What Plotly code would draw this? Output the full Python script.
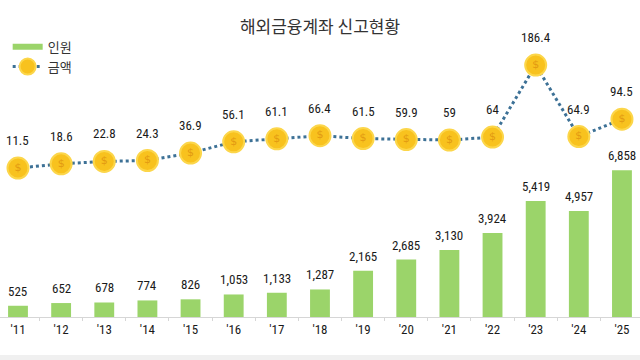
import plotly.graph_objects as go

years = ["'11", "'12", "'13", "'14", "'15", "'16", "'17", "'18", "'19", "'20", "'21", "'22", "'23", "'24", "'25"]
persons = [525, 652, 678, 774, 826, 1053, 1133, 1287, 2165, 2685, 3130, 3924, 5419, 4957, 6858]
amounts = [11.5, 18.6, 22.8, 24.3, 36.9, 56.1, 61.1, 66.4, 61.5, 59.9, 59, 64, 186.4, 64.9, 94.5]
amount_labels = ["11.5", "18.6", "22.8", "24.3", "36.9", "56.1", "61.1", "66.4", "61.5", "59.9", "59", "64", "186.4", "64.9", "94.5"]

NUM_FONT = "Liberation Sans Narrow, Roboto Condensed, Noto Sans CJK KR, sans-serif"
KR_FONT = "Noto Sans CJK KR, sans-serif"
GREEN = "#9BD46A"
BLUE = "#3D7196"

fig = go.Figure()
fig.add_trace(go.Bar(
    x=years, y=persons, name="인원", marker=dict(color=GREEN, line=dict(width=0)),
    width=0.46, yaxis="y", hoverinfo="skip", showlegend=False,
))
# legend entry for the bars (wide thin green swatch like the reference)
fig.add_trace(go.Scatter(
    x=[None], y=[None], name="인원", mode="lines", line=dict(color=GREEN, width=6),
    showlegend=True,
))
fig.add_trace(go.Scatter(
    x=years, y=amounts, name="금액", yaxis="y2", mode="lines+markers",
    line=dict(color=BLUE, width=3, dash="dot"),
    marker=dict(size=21, color="#F8C21E", line=dict(color="#FCD64A", width=2)),
))
fig.add_trace(go.Scatter(
    x=years, y=amounts, yaxis="y2", mode="text", text=["$"] * len(years),
    textfont=dict(color="#E39A12", size=11, family="DejaVu Sans"), showlegend=False,
    hoverinfo="skip",
))

annotations = []
for x, v in zip(years, persons):
    annotations.append(dict(x=x, y=v, xref="x", yref="y", text=f"{v:,}", showarrow=False,
                            yanchor="bottom", yshift=5,
                            font=dict(family=NUM_FONT, size=13, color="#1a1a1a")))
for x, v, t in zip(years, amounts, amount_labels):
    annotations.append(dict(x=x, y=v, xref="x", yref="y2", text=t, showarrow=False,
                            yanchor="bottom", yshift=18,
                            font=dict(family=NUM_FONT, size=13, color="#1a1a1a")))

fig.update_layout(
    width=640, height=360,
    margin=dict(l=0, r=0, t=0, b=43),
    plot_bgcolor="white", paper_bgcolor="white",
    title=dict(text="해외금융계좌 신고현황", x=0.5, xanchor="center", y=0.925, yanchor="middle",
               font=dict(family=KR_FONT, size=17, color="#333333")),
    xaxis=dict(type="category", range=[-0.417, 14.418], showgrid=False, showline=True,
               linecolor="#D6D6D6", linewidth=1, ticks="outside", ticklen=3, tickcolor="#D6D6D6",
               tickson="boundaries",
               tickfont=dict(family=NUM_FONT, size=13, color="#1a1a1a"), fixedrange=True),
    yaxis=dict(range=[0, 14813], visible=False, showgrid=False),
    yaxis2=dict(range=[-241.4, 296.8], overlaying="y", visible=False, showgrid=False),
    legend=dict(x=0.012, y=0.90, xanchor="left", yanchor="top", bgcolor="rgba(0,0,0,0)",
                font=dict(family=KR_FONT, size=13, color="#333333"), itemwidth=30,
                tracegroupgap=2),
    annotations=annotations,
    shapes=[dict(type="rect", xref="paper", yref="paper", x0=0, x1=1, y0=-0.14, y1=-0.12,
                 fillcolor="#F0F0F0", line=dict(width=0), layer="below")],
    showlegend=True,
    bargap=0.5,
)

fig.write_html("out.html", config={"displayModeBar": False},
               post_script="document.body.style.margin='0';")
